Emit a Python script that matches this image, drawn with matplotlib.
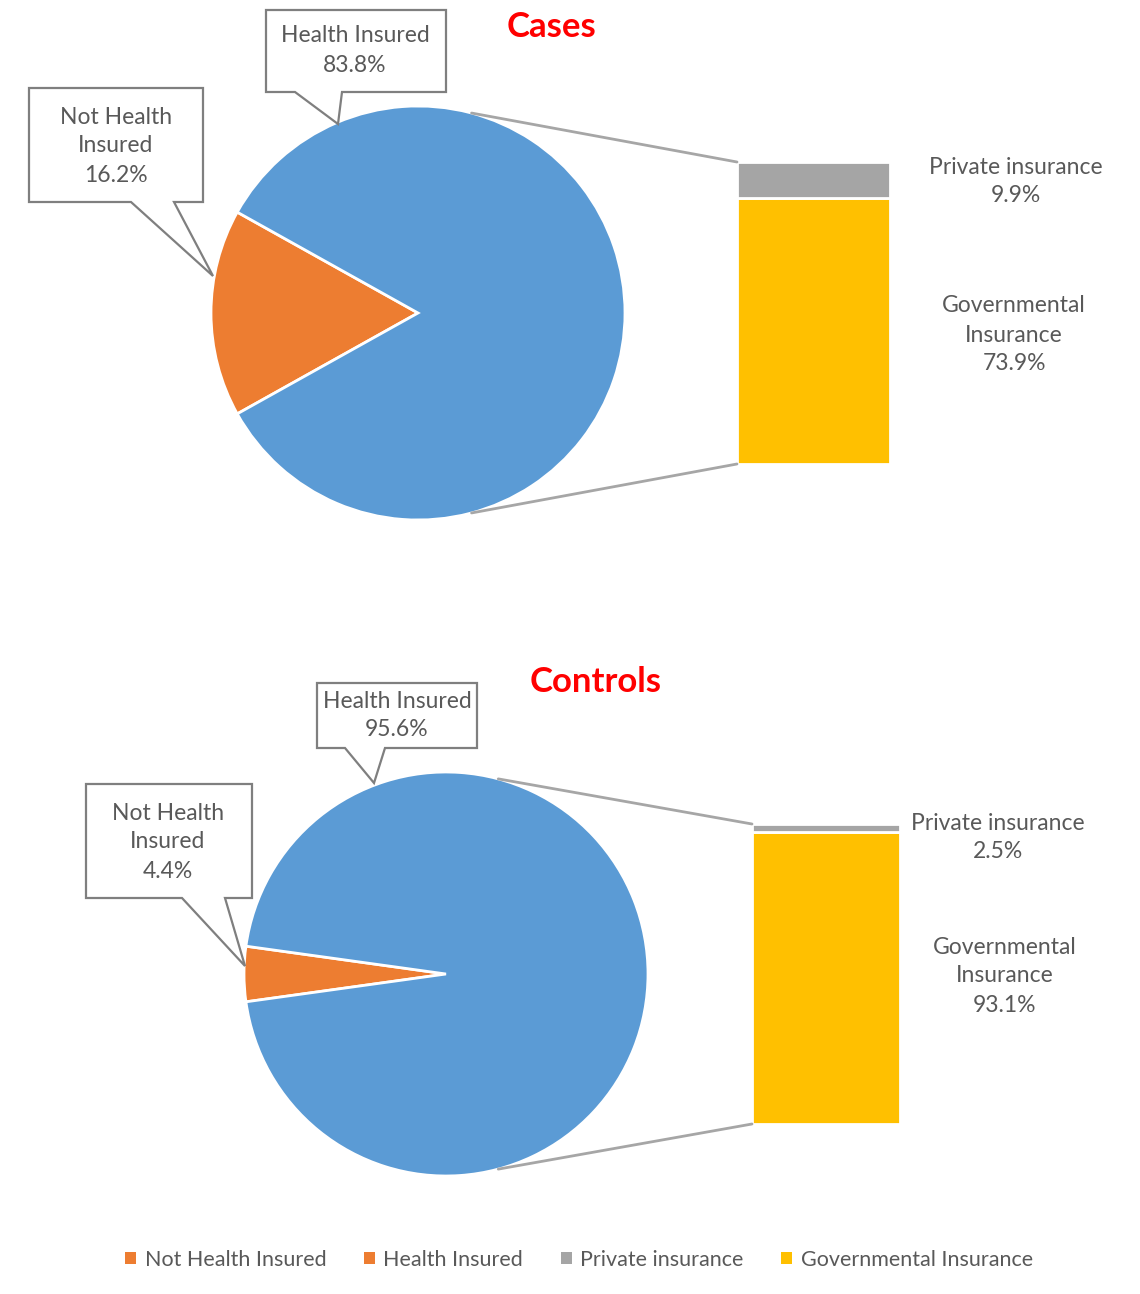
import math
import matplotlib.pyplot as plt
from matplotlib.patches import Polygon, Patch, ConnectionPatch

# dados: seguro de saude em casos e controles
grupos = ["Cases", "Controls"]
pizza_rotulos = ["Not Health Insured", "Health Insured"]
pizza_casos = [16.2, 83.8]
pizza_controles = [4.4, 95.6]
barra_rotulos = ["Governmental Insurance", "Private insurance"]
barra_casos = [73.9, 9.9]
barra_controles = [93.1, 2.5]

cor_nao = "#ed7d31"
cor_sim = "#5b9bd5"
cor_priv = "#a5a5a5"
cor_gov = "#ffc000"
cor_texto = "#595959"
cor_linha = "#a6a6a6"
fonte = "Lato"
tam = 16.5

W, H = 1140, 1294
fig = plt.figure(figsize=(W / 100, H / 100), dpi=100)
ax = fig.add_axes([0, 0, 1, 1])


def Y(p):
    return H - p


def eixo_barra(x0, x1, y0, y1):
    return fig.add_axes([x0 / W, (H - y1) / H, (x1 - x0) / W, (y1 - y0) / H])


def balao(x0, y0, x1, y1, base_esq, base_dir, ponta, linhas, cx, ys):
    pts = [(x0, y0), (x1, y0), (x1, y1), (base_dir, y1), ponta,
           (base_esq, y1), (x0, y1)]
    ax.add_patch(Polygon([(x, Y(y)) for x, y in pts], closed=True,
                         facecolor="white", edgecolor="#7f7f7f", lw=1.6, zorder=5))
    for t, yy in zip(linhas, ys):
        ax.text(cx, Y(yy), t, ha="center", va="center", fontsize=tam,
                color=cor_texto, family=fonte, zorder=6)


def painel(valores, barras, centro, raio, caixa, titulo, pos_titulo):
    fatia = valores[0] * 3.6
    ax.pie(valores, colors=[cor_nao, cor_sim], startangle=180 - fatia / 2,
           center=(centro[0], Y(centro[1])), radius=raio,
           wedgeprops=dict(edgecolor="white", linewidth=2))
    total = sum(barras)
    bax = eixo_barra(*caixa)
    base = 0
    for v, c in zip(barras, [cor_gov, cor_priv]):
        bax.bar(0.5, v, width=1, bottom=base, color=c, edgecolor="white", linewidth=2)
        base += v
    bax.set_xlim(0, 1)
    bax.set_ylim(0, total)
    bax.axis("off")
    # linhas ligando a pizza a barra
    for ang, yb in [(75, total), (-75, 0)]:
        xa = centro[0] + raio * math.cos(math.radians(ang))
        ya = Y(centro[1]) + raio * math.sin(math.radians(ang))
        con = ConnectionPatch(xyA=(xa, ya), coordsA=ax.transData,
                              xyB=(0, yb), coordsB=bax.transData,
                              color=cor_linha, lw=2)
        fig.add_artist(con)
    ax.text(pos_titulo[0], Y(pos_titulo[1]), titulo, ha="center", va="center",
            fontsize=25, fontweight="bold", color="#ff0000", family=fonte)


painel(pizza_casos, barra_casos, (418, 313), 207, (737, 890, 162, 464),
       grupos[0], (551, 27))
painel(pizza_controles, barra_controles, (446, 974), 202, (752, 900, 824, 1124),
       grupos[1], (596, 682))

# baloes dos casos
balao(266, 10, 446, 92, 295, 342, (338, 124),
      ["Health Insured", f"{pizza_casos[1]}%"], 355, [36, 65])
balao(29, 88, 203, 202, 131, 174, (213, 276),
      ["Not Health", "Insured", f"{pizza_casos[0]}%"], 116, [117, 146, 175])
# baloes dos controles
balao(317, 683, 477, 748, 345, 385, (374, 783),
      ["Health Insured", f"{pizza_controles[1]}%"], 397, [701, 730])
balao(86, 784, 252, 898, 182, 225, (245, 966),
      ["Not Health", "Insured", f"{pizza_controles[0]}%"], 168, [813, 842, 871])

# rotulos das barras
def rotulo(x, ys, linhas):
    for t, yy in zip(linhas, ys):
        ax.text(x, Y(yy), t, ha="center", va="center", fontsize=tam,
                color=cor_texto, family=fonte)

rotulo(1016, [167, 196], ["Private insurance", f"{barra_casos[1]}%"])
rotulo(1014, [306, 335, 364], ["Governmental", "Insurance", f"{barra_casos[0]}%"])
rotulo(998, [823, 852], ["Private insurance", f"{barra_controles[1]}%"])
rotulo(1005, [947, 976, 1005], ["Governmental", "Insurance", f"{barra_controles[0]}%"])

ax.set_xlim(0, W)
ax.set_ylim(0, H)
ax.set_aspect("auto")
ax.axis("off")

handles = [Patch(facecolor=c) for c in [cor_nao, cor_nao, cor_priv, cor_gov]]
nomes = pizza_rotulos + barra_rotulos[::-1]
leg = fig.legend(handles, nomes, loc="center", bbox_to_anchor=(0.508, 1 - 1260 / H),
                 ncol=4, frameon=False, handlelength=0.5, handleheight=0.5,
                 handletextpad=0.4, columnspacing=1.75,
                 prop=dict(family=fonte, size=15.5))
for t in leg.get_texts():
    t.set_color(cor_texto)

fig.savefig("out.png", dpi=100, facecolor="white")
